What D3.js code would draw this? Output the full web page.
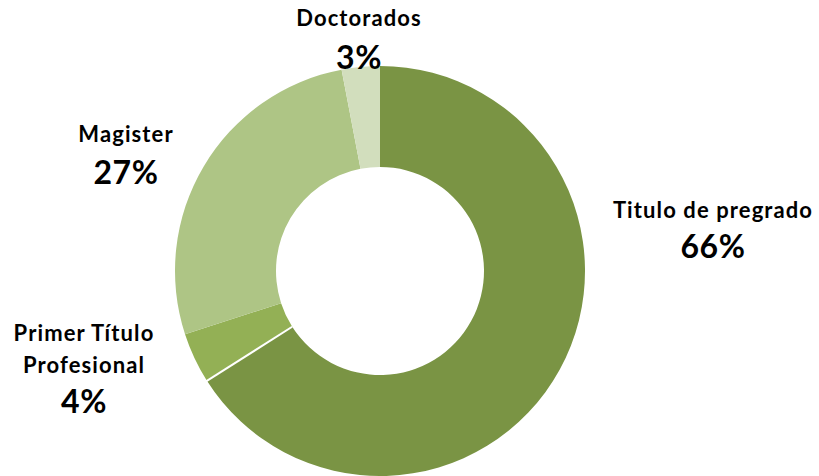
<!DOCTYPE html>
<html><head><meta charset="utf-8">
<script src="https://cdn.jsdelivr.net/npm/d3@7"></script>
<style>body{margin:0;background:#fff}svg{display:block}text{font-family:Lato,"Open Sans",sans-serif;font-weight:bold;fill:#000}</style>
</head><body>
<svg id="c" width="819" height="476"></svg>
<script>
const categories = ["Titulo de pregrado", "Primer Título Profesional", "Magister", "Doctorados"];
const values = [66, 4, 27, 3];
const percentLabels = ["66%", "4%", "27%", "3%"];
const colors = ["#7A9444", "#93B055", "#AEC585", "#D2DEBD"];

const svg = d3.select("#c");
const cx = 380, cy = 271, rOuter = 205, rInner = 104;
const g = svg.append("g").attr("transform", `translate(${cx},${cy})`);
const pie = d3.pie().sort(null).value(d => d)(values);
const arc = d3.arc().innerRadius(rInner).outerRadius(rOuter);
g.selectAll("path.s").data(pie).join("path").attr("class","s")
  .attr("d", arc).attr("fill", (d,i) => colors[i]);
// white separator between first two slices
const a = pie[1].startAngle;
g.append("line")
  .attr("x1", Math.sin(a)*rInner).attr("y1", -Math.cos(a)*rInner)
  .attr("x2", Math.sin(a)*(rOuter+1)).attr("y2", -Math.cos(a)*(rOuter+1))
  .attr("stroke", "#fff").attr("stroke-width", 2);

const labelLayout = [
  {lines:["Titulo de pregrado"], x:713, ys:[218], py:258},
  {lines:["Primer Título","Profesional"], x:84, ys:[341,373], py:413},
  {lines:["Magister"], x:126, ys:[142], py:184},
  {lines:["Doctorados"], x:359, ys:[26], py:69}
];
labelLayout.forEach((L,i) => {
  L.lines.forEach((t,j) => svg.append("text").attr("x", L.x).attr("y", L.ys[j])
    .attr("text-anchor","middle").attr("font-size", 22).attr("letter-spacing", 1.1).text(t));
  svg.append("text").attr("x", L.x).attr("y", L.py).attr("text-anchor","middle")
    .attr("font-size", 32).attr("letter-spacing", 0.5).text(percentLabels[i]);
});
</script>
</body></html>
